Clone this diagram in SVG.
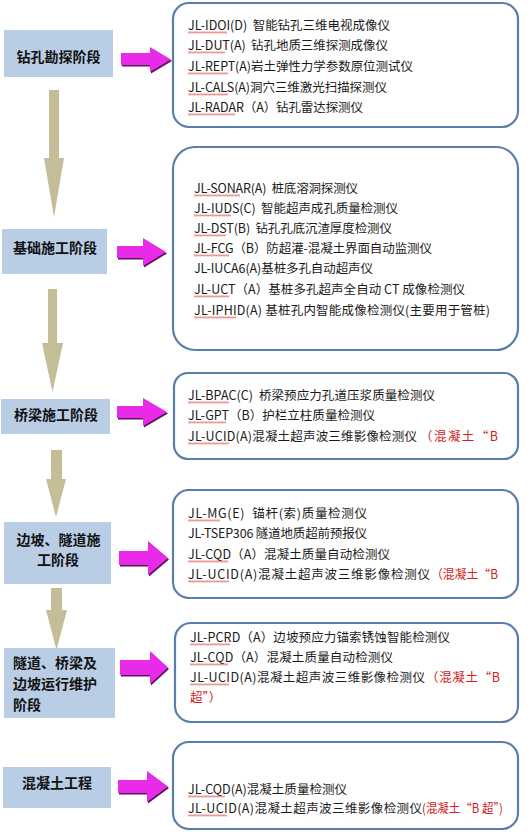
<svg xmlns="http://www.w3.org/2000/svg" width="532" height="832" viewBox="0 0 532 832">
<defs>
<pattern id="wavy" patternUnits="userSpaceOnUse" width="4" height="3">
<path d="M0,2.5 L1,0.5 L2,2.5 L3,0.5 L4,2.5" fill="none" stroke="#e04040" stroke-width="0.55"/>
</pattern>
<style>
.stage{fill:#b9cde5;}
.slabel{font-family:"Noto Sans CJK SC","Noto Sans",sans-serif;font-size:14px;font-weight:700;fill:#111;}
.detail{fill:#fff;stroke:#5a7eab;stroke-width:2.2;}
.t{font-family:"Noto Sans CJK SC","Noto Sans",sans-serif;font-size:12.5px;fill:#1a1a1a;}
.r{fill:#d42020;}
.sq{fill:url(#wavy);}
.harrow{fill:#e92ae9;}
.hshadow{fill:#5e125e;}
.varrow{fill:#c4bd97;}
</style>
</defs>
<rect width="532" height="832" fill="#fff"/>

<g id="connectors">
<polygon class="varrow" points="49,90 59,90 59,158 64,158 54,217 44,158 49,158"/>
<polygon class="varrow" points="48,289 57,289 57,343 63,343 52.5,392 42,343 48,343"/>
<polygon class="varrow" points="51,450 62,450 62,479 66,479 56,517 46,479 51,479"/>
<polygon class="varrow" points="51,588 62,588 62,610 67,610 56.5,650 46,610 51,610"/>
<g transform="translate(1,1.5)">
<polygon class="hshadow" points="121,53 150,53 150,47 171,59.5 150,72 150,65 121,65"/>
<polygon class="hshadow" points="117,246 143,246 143,238 166,252 143,266 143,258 117,258"/>
<polygon class="hshadow" points="117,406 143,406 143,398 167,412 143,426 143,418 117,418"/>
<polygon class="hshadow" points="119,551 148,551 148,541 168,558 148,575 148,565 119,565"/>
<polygon class="hshadow" points="120,660 150,660 150,651 168,667.5 150,684 150,675 120,675"/>
<polygon class="hshadow" points="118,780 147,780 147,771 168,786.5 147,802 147,793 118,793"/>
</g>
<polygon class="harrow" points="121,53 150,53 150,47 171,59.5 150,72 150,65 121,65"/>
<polygon class="harrow" points="117,246 143,246 143,238 166,252 143,266 143,258 117,258"/>
<polygon class="harrow" points="117,406 143,406 143,398 167,412 143,426 143,418 117,418"/>
<polygon class="harrow" points="119,551 148,551 148,541 168,558 148,575 148,565 119,565"/>
<polygon class="harrow" points="120,660 150,660 150,651 168,667.5 150,684 150,675 120,675"/>
<polygon class="harrow" points="118,780 147,780 147,771 168,786.5 147,802 147,793 118,793"/>
</g>

<g id="stage1">
<rect class="stage" x="4" y="30" width="109" height="47"/>
<text class="slabel" x="58.5" y="62" text-anchor="middle">钻孔勘探阶段</text>
</g>
<g id="stage2">
<rect class="stage" x="2" y="229" width="105" height="45"/>
<text class="slabel" x="55" y="253" text-anchor="middle">基础施工阶段</text>
</g>
<g id="stage3">
<rect class="stage" x="1" y="399" width="109" height="35"/>
<text class="slabel" x="56" y="420" text-anchor="middle">桥梁施工阶段</text>
</g>
<g id="stage4">
<rect class="stage" x="4" y="522" width="107" height="62"/>
<text class="slabel" x="58.5" y="545" text-anchor="middle">边坡、隧道施</text>
<text class="slabel" x="58" y="565" text-anchor="middle">工阶段</text>
</g>
<g id="stage5">
<rect class="stage" x="4" y="648" width="111" height="70"/>
<text class="slabel" x="13" y="668">隧道、桥梁及</text>
<text class="slabel" x="13" y="689">边坡运行维护</text>
<text class="slabel" x="13" y="710">阶段</text>
</g>
<g id="stage6">
<rect class="stage" x="3" y="767" width="108" height="41"/>
<text class="slabel" x="57" y="788" text-anchor="middle">混凝土工程</text>
</g>

<g id="detail1">
<rect class="detail" x="173" y="3" width="345" height="124" rx="16"/>
<text class="t" xml:space="preserve" x="188" y="29.5" textLength="202" lengthAdjust="spacing">JL-IDOI(D)  智能钻孔三维电视成像仪</text>
<text class="t" xml:space="preserve" x="188" y="49.5" textLength="200" lengthAdjust="spacing">JL-DUT(A)  钻孔地质三维探测成像仪</text>
<text class="t" x="188" y="70.5" textLength="225" lengthAdjust="spacing">JL-REPT(A)岩土弹性力学参数原位测试仪</text>
<text class="t" x="188" y="91.5" textLength="199" lengthAdjust="spacing">JL-CALS(A)洞穴三维激光扫描探测仪</text>
<text class="t" x="188" y="111.5" textLength="175" lengthAdjust="spacing">JL-RADAR（A）钻孔雷达探测仪</text>
<rect class="sq" transform="translate(188,31)" width="39" height="3"/>
<rect class="sq" transform="translate(188,51)" width="37" height="3"/>
<rect class="sq" transform="translate(188,72)" width="40" height="3"/>
<rect class="sq" transform="translate(188,93)" width="40" height="3"/>
<rect class="sq" transform="translate(188,113)" width="47" height="3"/>
</g>

<g id="detail2">
<rect class="detail" x="173" y="147" width="345" height="203" rx="22"/>
<text class="t" xml:space="preserve" x="194" y="192.5" textLength="164" lengthAdjust="spacing">JL-SONAR(A)  桩底溶洞探测仪</text>
<text class="t" xml:space="preserve" x="194" y="212.5" textLength="204" lengthAdjust="spacing">JL-IUDS(C)  智能超声成孔质量检测仪</text>
<text class="t" xml:space="preserve" x="194" y="232.5" textLength="198" lengthAdjust="spacing">JL-DST(B)  钻孔孔底沉渣厚度检测仪</text>
<text class="t" xml:space="preserve" x="194" y="252.5" textLength="238" lengthAdjust="spacing">JL-FCG（B）防超灌-混凝土界面自动监测仪</text>
<text class="t" x="194" y="272.5" textLength="179" lengthAdjust="spacing">JL-IUCA6(A)基桩多孔自动超声仪</text>
<text class="t" xml:space="preserve" x="194" y="293.5" textLength="271" lengthAdjust="spacing">JL-UCT（A）基桩多孔超声全自动 CT 成像检测仪</text>
<text class="t" x="194" y="314.5" textLength="296" lengthAdjust="spacing">JL-IPHID(A) 基桩孔内智能成像检测仪(主要用于管桩)</text>
<rect class="sq" transform="translate(194,194)" width="46" height="3"/>
<rect class="sq" transform="translate(194,214)" width="37" height="3"/>
<rect class="sq" transform="translate(194,234)" width="32" height="3"/>
<rect class="sq" transform="translate(194,254)" width="35" height="3"/>
<rect class="sq" transform="translate(194,295)" width="35" height="3"/>
<rect class="sq" transform="translate(194,316)" width="42" height="3"/>
</g>

<g id="detail3">
<rect class="detail" x="174" y="373" width="344" height="86" rx="14"/>
<text class="t" xml:space="preserve" x="188" y="399.5" textLength="247" lengthAdjust="spacing">JL-BPAC(C)  桥梁预应力孔道压浆质量检测仪</text>
<text class="t" x="188" y="419.5" textLength="187" lengthAdjust="spacing">JL-GPT（B）护栏立柱质量检测仪</text>
<text class="t" x="188" y="440.5" textLength="229" lengthAdjust="spacing">JL-UCID(A)混凝土超声波三维影像检测仪</text>
<text class="t r" x="420" y="440.5" textLength="78" lengthAdjust="spacing">（混凝土“B</text>
<rect class="sq" transform="translate(188,401)" width="41" height="3"/>
<rect class="sq" transform="translate(188,421)" width="38" height="3"/>
<rect class="sq" transform="translate(188,442)" width="41" height="3"/>
</g>

<g id="detail4">
<rect class="detail" x="173" y="490" width="345" height="108" rx="16"/>
<text class="t" xml:space="preserve" x="188" y="517.5" textLength="179" lengthAdjust="spacing">JL-MG(E)  锚杆(索)质量检测仪</text>
<text class="t" x="188" y="537.5" textLength="179" lengthAdjust="spacing">JL-TSEP306 隧道地质超前预报仪</text>
<text class="t" x="188" y="558.5" textLength="202" lengthAdjust="spacing">JL-CQD（A）混凝土质量自动检测仪</text>
<text class="t" x="188" y="578.5" textLength="242" lengthAdjust="spacing">JL-UCID(A)混凝土超声波三维影像检测仪</text>
<text class="t r" x="431" y="578.5" textLength="67" lengthAdjust="spacingAndGlyphs">（混凝土“B</text>
<rect class="sq" transform="translate(188,519)" width="32" height="3"/>
<rect class="sq" transform="translate(188,560)" width="40" height="3"/>
<rect class="sq" transform="translate(188,580)" width="41" height="3"/>
</g>

<g id="detail5">
<rect class="detail" x="175" y="623" width="343" height="99" rx="16"/>
<text class="t" x="190" y="641.5" textLength="260" lengthAdjust="spacing">JL-PCRD（A）边坡预应力锚索锈蚀智能检测仪</text>
<text class="t" x="190" y="661.5" textLength="203" lengthAdjust="spacing">JL-CQD（A）混凝土质量自动检测仪</text>
<text class="t" x="190" y="681.5" textLength="235" lengthAdjust="spacing">JL-UCID(A)混凝土超声波三维影像检测仪</text>
<text class="t r" x="426" y="681.5" textLength="74" lengthAdjust="spacing">（混凝土“B</text>
<text class="t r" x="190" y="701.5">超”）</text>
<rect class="sq" transform="translate(190,643)" width="40" height="3"/>
<rect class="sq" transform="translate(190,663)" width="38" height="3"/>
<rect class="sq" transform="translate(190,683)" width="39" height="3"/>
</g>

<g id="detail6">
<rect class="detail" x="173" y="742" width="345" height="87" rx="16"/>
<text class="t" x="188" y="793.5" textLength="159" lengthAdjust="spacing">JL-CQD(A)混凝土质量检测仪</text>
<text class="t" x="188" y="812.5" textLength="234" lengthAdjust="spacing">JL-UCID(A)混凝土超声波三维影像检测仪</text>
<text class="t r" xml:space="preserve" x="422" y="812.5" textLength="81" lengthAdjust="spacingAndGlyphs">(混凝土“B 超”)</text>
<rect class="sq" transform="translate(188,795)" width="37" height="3"/>
<rect class="sq" transform="translate(188,814)" width="39" height="3"/>
</g>
</svg>
